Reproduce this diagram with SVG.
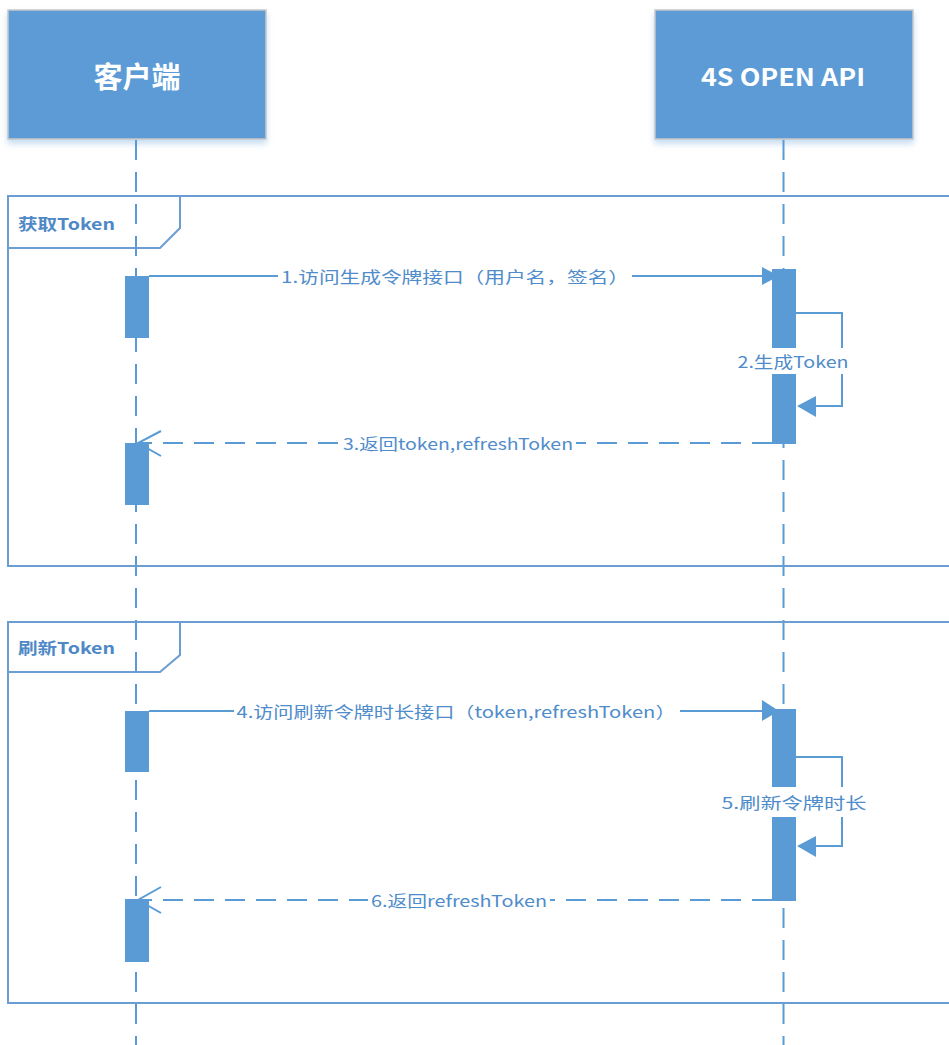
<svg xmlns="http://www.w3.org/2000/svg" width="949" height="1045" viewBox="0 0 949 1045">
<defs>
<filter id="sh" x="-10%" y="-10%" width="120%" height="130%">
<feDropShadow dx="0" dy="4" stdDeviation="3" flood-color="#5B9BD5" flood-opacity="0.35"/>
</filter>
</defs>
<style>
.head{fill:#5B9BD5;stroke:#C8C8C8;stroke-width:1.5}
.htxt{fill:#FFFFFF;font-family:"Noto Sans CJK SC","Noto Sans",sans-serif;font-weight:bold;text-anchor:middle;dominant-baseline:central}
.life{stroke:#5B9BD5;stroke-width:2;stroke-dasharray:20 12;fill:none}
.frame{fill:none;stroke:#6A9ED3;stroke-width:2}
.ftxt{fill:#4F88C6;font-family:"Noto Sans CJK SC","Noto Sans",sans-serif;font-weight:bold;font-size:16px;dominant-baseline:central}
.act{fill:#5B9BD5}
.msg{stroke:#5B9BD5;stroke-width:2;fill:none}
.ret{stroke:#5B9BD5;stroke-width:2;fill:none;stroke-dasharray:20 11}
.ah{fill:#5B9BD5}
.lbl{fill:#4F8CCB;font-family:"Noto Sans CJK SC","Noto Sans",sans-serif;font-size:16px;text-anchor:middle;dominant-baseline:central}
.bg{fill:#FFFFFF}
</style>
<rect width="949" height="1045" fill="#FFFFFF"/>

<g id="lifelines">
<line class="life" x1="136" y1="140" x2="136" y2="1045"/>
<line class="life" x1="783.5" y1="140" x2="783.5" y2="1045"/>
</g>

<g id="node-client">
<rect class="head" x="8" y="10" width="258" height="129" filter="url(#sh)"/>
<text class="htxt" x="137" y="75" font-size="29">客户端</text>
</g>
<g id="node-api">
<rect class="head" x="655" y="10" width="258" height="129" filter="url(#sh)"/>
<text class="htxt" x="783" y="75" font-size="24" textLength="164" lengthAdjust="spacingAndGlyphs">4S OPEN API</text>
</g>

<g id="frame-get-token">
<rect class="frame" x="8" y="196" width="960" height="370"/>
<path class="frame" d="M8,248 L160,248 L180,228 L180,196"/>
<text class="ftxt" x="18" y="223" textLength="97" lengthAdjust="spacingAndGlyphs">获取Token</text>
</g>
<g id="frame-refresh-token">
<rect class="frame" x="8" y="622" width="960" height="381"/>
<path class="frame" d="M8,672 L160,672 L180,655 L180,622"/>
<text class="ftxt" x="18" y="647" textLength="97" lengthAdjust="spacingAndGlyphs">刷新Token</text>
</g>

<g id="activations">
<rect class="act" x="125" y="276" width="24" height="62"/>
<rect class="act" x="125" y="443" width="24" height="62"/>
<rect class="act" x="772" y="269" width="24" height="175"/>
<rect class="act" x="125" y="711" width="24" height="61"/>
<rect class="act" x="125" y="899" width="24" height="63"/>
<rect class="act" x="772" y="709" width="24" height="192"/>
</g>

<g id="connectors">
<!-- 1 -->
<line class="msg" x1="149" y1="276" x2="764" y2="276"/>
<polygon class="ah" points="762,267 762,285 779,276"/>
<rect class="bg" x="278" y="264" width="354" height="24"/>
<text class="lbl" x="455" y="276" textLength="348" lengthAdjust="spacingAndGlyphs">1.访问生成令牌接口（用户名，签名）</text>
<!-- 2 -->
<polyline class="msg" points="796,313 842,313 842,406 814,406"/>
<polygon class="ah" points="797,406 816,396 816,417"/>
<rect class="bg" x="736" y="348" width="115" height="26"/>
<text class="lbl" x="793" y="361" textLength="111" lengthAdjust="spacingAndGlyphs">2.生成Token</text>
<!-- 3 -->
<line class="ret" x1="772" y1="443" x2="140" y2="443"/>
<polyline class="msg" points="161,431 138,443 161,456"/>
<rect class="bg" x="340" y="431" width="236" height="24"/>
<text class="lbl" x="458" y="443" textLength="230" lengthAdjust="spacingAndGlyphs">3.返回token,refreshToken</text>
<!-- 4 -->
<line class="msg" x1="149" y1="711" x2="764" y2="711"/>
<polygon class="ah" points="762,700 762,721 779,711"/>
<rect class="bg" x="234" y="699" width="446" height="24"/>
<text class="lbl" x="456" y="711" textLength="439" lengthAdjust="spacingAndGlyphs">4.访问刷新令牌时长接口（token,refreshToken）</text>
<!-- 5 -->
<polyline class="msg" points="796,757 842,757 842,846 814,846"/>
<polygon class="ah" points="797,846 816,836 816,857"/>
<rect class="bg" x="719" y="787" width="151" height="30"/>
<text class="lbl" x="794" y="802" textLength="145" lengthAdjust="spacingAndGlyphs">5.刷新令牌时长</text>
<!-- 6 -->
<line class="ret" x1="772" y1="900" x2="140" y2="900"/>
<polyline class="msg" points="161,887 138,900 161,913"/>
<rect class="bg" x="368" y="888" width="182" height="24"/>
<text class="lbl" x="459" y="900" textLength="176" lengthAdjust="spacingAndGlyphs">6.返回refreshToken</text>
</g>
</svg>
